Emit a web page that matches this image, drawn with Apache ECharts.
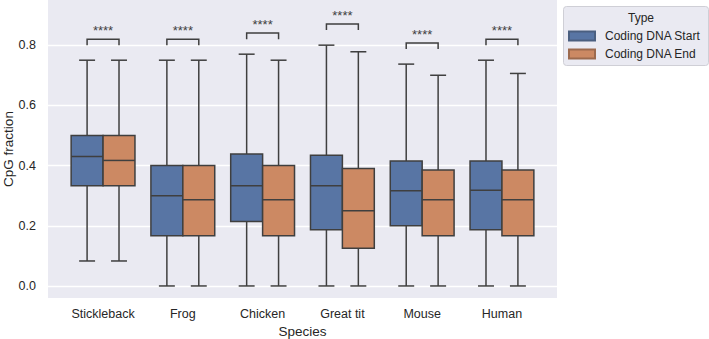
<!DOCTYPE html>
<html>
<head>
<meta charset="utf-8">
<script src="https://cdn.jsdelivr.net/npm/echarts@6/dist/echarts.min.js"></script>
<style>
  html, body { margin: 0; padding: 0; background: #fff; }
  #chart { width: 709px; height: 339px; }
</style>
</head>
<body>
<div id="chart"></div>
<script>
// species on the x axis
const species = ['Stickleback', 'Frog', 'Chicken', 'Great tit', 'Mouse', 'Human'];
const typeNames = ['Coding DNA Start', 'Coding DNA End'];
// box stats: [lower whisker, Q1, median, Q3, upper whisker]
const startStats = [
  [0.083, 0.333, 0.43, 0.5, 0.75],
  [0, 0.167, 0.3, 0.4, 0.75],
  [0, 0.214, 0.333, 0.438, 0.77],
  [0, 0.187, 0.333, 0.434, 0.8],
  [0, 0.2, 0.316, 0.415, 0.737],
  [0, 0.187, 0.318, 0.415, 0.75]
];
const endStats = [
  [0.083, 0.333, 0.417, 0.5, 0.75],
  [0, 0.167, 0.286, 0.4, 0.75],
  [0, 0.167, 0.286, 0.4, 0.75],
  [0, 0.125, 0.25, 0.39, 0.778],
  [0, 0.167, 0.286, 0.385, 0.7],
  [0, 0.167, 0.286, 0.385, 0.706]
];
// significance brackets (leg end / bar height) and labels
const sigEnd = [0.8, 0.8, 0.82, 0.85, 0.787, 0.8];
const sigTop = [0.82, 0.82, 0.84, 0.87, 0.807, 0.82];
const sigLabels = ['****', '****', '****', '****', '****', '****'];
const yTicks = [0, 0.2, 0.4, 0.6, 0.8];

const lineColor = '#3f3f3f';
const textColor = '#262626';
const colors = ['#5875a4', '#cc8963'];

function boxRenderer(offset, color) {
  return function (params, api) {
    const x = api.value(0) + offset;
    const lo = api.coord([x, api.value(1)]);
    const q1 = api.coord([x, api.value(2)]);
    const med = api.coord([x, api.value(3)]);
    const q3 = api.coord([x, api.value(4)]);
    const hi = api.coord([x, api.value(5)]);
    const w = api.size([0.4, 0])[0];
    const cx = lo[0];
    const cap = w / 4;
    const ls = { stroke: lineColor, lineWidth: 1.5 };
    return {
      type: 'group',
      children: [
        { type: 'line', shape: { x1: cx, y1: hi[1], x2: cx, y2: q3[1] }, style: ls },
        { type: 'line', shape: { x1: cx, y1: q1[1], x2: cx, y2: lo[1] }, style: ls },
        { type: 'line', shape: { x1: cx - cap, y1: hi[1], x2: cx + cap, y2: hi[1] }, style: ls },
        { type: 'line', shape: { x1: cx - cap, y1: lo[1], x2: cx + cap, y2: lo[1] }, style: ls },
        { type: 'rect', shape: { x: cx - w / 2, y: q3[1], width: w, height: q1[1] - q3[1] },
          style: { fill: color, stroke: lineColor, lineWidth: 1.5 } },
        { type: 'line', shape: { x1: cx - w / 2, y1: med[1], x2: cx + w / 2, y2: med[1] }, style: ls }
      ]
    };
  };
}

function sigRenderer(params, api) {
  const i = api.value(0);
  const a = api.coord([i - 0.2, api.value(1)]);
  const b = api.coord([i - 0.2, api.value(2)]);
  const c = api.coord([i + 0.2, api.value(2)]);
  const d = api.coord([i + 0.2, api.value(1)]);
  return {
    type: 'group',
    children: [
      { type: 'polyline', shape: { points: [a, b, c, d] },
        style: { stroke: lineColor, lineWidth: 1.5, fill: null } },
      { type: 'text', x: (b[0] + c[0]) / 2, y: b[1] - 9,
        style: { text: sigLabels[params.dataIndex], fill: lineColor, font: '13px "Liberation Sans"',
                 align: 'center', verticalAlign: 'middle' } }
    ]
  };
}

const chart = echarts.init(document.getElementById('chart'), null, { renderer: 'svg' });
const option = {
  animation: false,
  textStyle: { fontFamily: '"Liberation Sans", Arial, sans-serif' },
  grid: { left: 48, right: 152, top: 0, bottom: 41, outerBoundsMode: 'none',
          backgroundColor: '#eaeaf2', show: true, borderWidth: 0 },
  title: {
    text: 'Type', left: 636, top: 7, textAlign: 'center',
    textStyle: { fontSize: 12, fontWeight: 'normal', color: textColor }
  },
  legend: {
    orient: 'vertical', left: 563, top: 25, itemWidth: 26, itemHeight: 9, itemGap: 6,
    icon: 'rect',
    textStyle: { fontSize: 12, color: textColor, padding: [0, 0, 0, 5] },
    data: typeNames
  },
  graphic: [{
    type: 'rect', left: 563, top: 6, z: -1,
    shape: { width: 145, height: 59, r: 3 },
    style: { fill: '#eaeaf2', stroke: '#cfcfd6', lineWidth: 1 }
  }],
  xAxis: {
    type: 'value', min: -0.69, max: 5.69,
    name: 'Species', nameLocation: 'middle', nameGap: 26, nameMoveOverlap: false,
    nameTextStyle: { fontSize: 13.5, color: textColor },
    axisLine: { show: false }, axisTick: { show: false }, splitLine: { show: false },
    axisLabel: {
      customValues: [0, 1, 2, 3, 4, 5], fontSize: 12.5, color: textColor, margin: 9,
      formatter: v => species[Math.round(v)]
    }
  },
  yAxis: {
    type: 'value', min: -0.04, max: 0.95,
    name: 'CpG fraction', nameLocation: 'middle', nameGap: 33, nameMoveOverlap: false,
    nameTextStyle: { fontSize: 13.5, color: textColor },
    axisLine: { show: false },
    axisTick: { show: false, customValues: yTicks },
    axisLabel: { customValues: yTicks, fontSize: 12.5, color: textColor, margin: 12,
                 formatter: v => v.toFixed(1) },
    splitLine: { show: true, lineStyle: { color: '#ffffff', width: 1.3 } }
  },
  series: [
    {
      name: typeNames[0], type: 'custom',
      renderItem: boxRenderer(-0.2, colors[0]),
      itemStyle: { color: colors[0], borderColor: '#4a5f80', borderWidth: 0.8 },
      encode: { x: 0, y: [1, 2, 3, 4, 5] },
      data: startStats.map((s, i) => [i].concat(s))
    },
    {
      name: typeNames[1], type: 'custom',
      renderItem: boxRenderer(0.2, colors[1]),
      itemStyle: { color: colors[1], borderColor: '#9c6a4e', borderWidth: 0.8 },
      encode: { x: 0, y: [1, 2, 3, 4, 5] },
      data: endStats.map((s, i) => [i].concat(s))
    },
    {
      name: 'sig', type: 'custom',
      renderItem: sigRenderer,
      encode: { x: 0, y: [1, 2] },
      data: sigEnd.map((e, i) => [i, e, sigTop[i]])
    }
  ]
};
chart.setOption(option);
</script>
</body>
</html>
